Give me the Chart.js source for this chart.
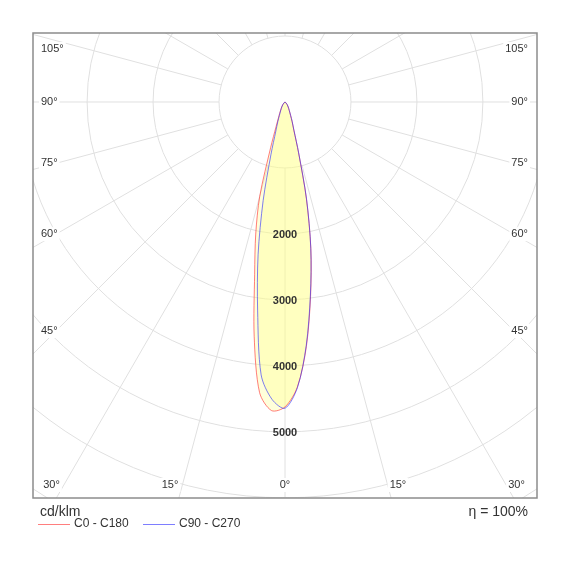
<!DOCTYPE html>
<html>
<head>
<meta charset="utf-8">
<script src="https://cdn.jsdelivr.net/npm/chart.js@4.4.0/dist/chart.umd.min.js"></script>
<style>
  html, body { margin: 0; padding: 0; background: #fff; }
  #wrap { width: 570px; height: 570px; }
</style>
</head>
<body>
<div id="wrap"><canvas id="chart" width="570" height="570"></canvas></div>
<script>
// gamma angles (deg from nadir) and luminous intensity in cd/klm per C-plane
const gammaAngles = [0, 2.5, 5, 7.5, 10, 12.5, 15, 17.5, 20, 22.5, 25, 30, 35, 40, 50, 60, 70, 80, 90];
const c0Values   = [4620, 4320, 3720, 2970, 2260, 1500, 795, 445, 315, 225, 170, 110, 75, 50, 15, 0, 0, 0, 0];
const c180Values = [4620, 4680, 4420, 3580, 2650, 2050, 1480, 720, 390, 260, 195, 120, 80, 50, 15, 0, 0, 0, 0];
const c90Values  = [4640, 4330, 3700, 2950, 2250, 1510, 800, 450, 320, 225, 170, 110, 75, 50, 15, 0, 0, 0, 0];
const c270Values = [4640, 4510, 4150, 3180, 2350, 1530, 820, 460, 320, 225, 170, 110, 75, 50, 15, 0, 0, 0, 0];

const ringValues = [1000, 2000, 3000, 4000, 5000, 6000, 7000, 8000];
const ringLabels = [2000, 3000, 4000, 5000];
const sideAngles = [45, 60, 75, 90, 105];
const bottomAngles = [0, 15, 30];
const seriesNames = ['C0 - C180', 'C90 - C270'];
const unitLabel = 'cd/klm';
const etaLabel = 'η = 100%';

const FONT = '"Liberation Sans", Arial, sans-serif';
const rad = d => d * Math.PI / 180;

// left half-plane goes from 90° down to nadir, right half-plane back up to 90°
function planePoints(leftVals, rightVals) {
  const pts = [];
  for (let i = gammaAngles.length - 1; i >= 0; i--) {
    const g = rad(gammaAngles[i]);
    pts.push({ x: -leftVals[i] * Math.sin(g), y: -leftVals[i] * Math.cos(g) });
  }
  for (let i = 1; i < gammaAngles.length; i++) {
    const g = rad(gammaAngles[i]);
    pts.push({ x: rightVals[i] * Math.sin(g), y: -rightVals[i] * Math.cos(g) });
  }
  return pts;
}

const polarGrid = {
  id: 'polarGrid',
  beforeDraw(chart) {
    const { ctx, chartArea: a, scales: { x, y } } = chart;
    const cx = x.getPixelForValue(0), cy = y.getPixelForValue(0);
    const px = v => x.getPixelForValue(v) - cx;
    ctx.save();
    ctx.beginPath();
    ctx.rect(a.left, a.top, a.width, a.height);
    ctx.clip();
    ctx.strokeStyle = '#e0e0e0';
    ctx.lineWidth = 1;
    ringValues.forEach(v => {
      ctx.beginPath();
      ctx.arc(cx, cy, px(v), 0, Math.PI * 2);
      ctx.stroke();
    });
    const r0 = px(ringValues[0]), r1 = px(ringValues[ringValues.length - 1]) * 1.5;
    for (let g = 0; g < 360; g += 15) {
      const t = rad(g);
      ctx.beginPath();
      ctx.moveTo(cx + r0 * Math.sin(t), cy + r0 * Math.cos(t));
      ctx.lineTo(cx + r1 * Math.sin(t), cy + r1 * Math.cos(t));
      ctx.stroke();
    }
    ctx.restore();
  },
  afterDatasetsDraw(chart) {
    const { ctx, scales: { x, y } } = chart;
    ctx.save();
    ctx.font = 'bold 11px ' + FONT;
    ctx.fillStyle = '#333';
    ctx.textAlign = 'center';
    ctx.textBaseline = 'middle';
    ringLabels.forEach(v => {
      ctx.fillText(String(v), x.getPixelForValue(0), y.getPixelForValue(-v) + 1);
    });
    ctx.restore();
  },
  afterDraw(chart) {
    const { ctx, chartArea: a, scales: { x, y } } = chart;
    const cx = x.getPixelForValue(0), cy = y.getPixelForValue(0);
    ctx.save();
    ctx.font = '11px ' + FONT;
    ctx.textBaseline = 'middle';

    const label = (txt, tx, ty, align) => {
      const w = ctx.measureText(txt).width;
      const lx = align === 'left' ? tx : align === 'right' ? tx - w : tx - w / 2;
      ctx.fillStyle = '#fff';
      ctx.fillRect(lx - 2, ty - 7, w + 4, 14);
      ctx.fillStyle = '#333';
      ctx.textAlign = align;
      ctx.fillText(txt, tx, ty);
    };

    // side labels
    const d = cx - (a.left + 23);
    sideAngles.forEach(g => {
      let ty = cy + d * Math.cos(rad(g)) / Math.sin(rad(g));
      ty = Math.max(ty, a.top + 16);
      label(g + '°', a.left + 8, ty, 'left');
      label(g + '°', a.right - 9, ty, 'right');
    });
    // bottom labels
    const by = a.bottom - 13;
    bottomAngles.forEach(g => {
      const off = (by - cy) * Math.tan(rad(g));
      if (g === 0) {
        label('0°', cx, by, 'center');
      } else {
        label(g + '°', Math.max(cx - off - 4, a.left + 24), by, 'right');
        label(g + '°', cx + off + 2, by, 'left');
      }
    });

    // frame
    ctx.strokeStyle = '#8c8c8c';
    ctx.lineWidth = 1.5;
    ctx.strokeRect(a.left, a.top, a.width, a.height);

    // unit and efficiency
    ctx.fillStyle = '#333';
    ctx.font = '14px ' + FONT;
    ctx.textAlign = 'left';
    ctx.fillText(unitLabel, a.left + 7, a.bottom + 14);
    ctx.textAlign = 'right';
    ctx.fillText(etaLabel, a.right - 9, a.bottom + 14);

    // legend
    ctx.font = '12px ' + FONT;
    ctx.textAlign = 'left';
    let lx = a.left + 5;
    const ly = a.bottom + 26;
    chart.data.datasets.forEach(ds => {
      ctx.strokeStyle = ds.borderColor;
      ctx.lineWidth = 1;
      ctx.beginPath();
      ctx.moveTo(lx, ly + 0.5);
      ctx.lineTo(lx + 32, ly + 0.5);
      ctx.stroke();
      ctx.fillStyle = '#333';
      ctx.fillText(ds.label, lx + 36, ly);
      lx += 105;
    });
    ctx.restore();
  }
};

new Chart(document.getElementById('chart'), {
  type: 'scatter',
  data: {
    datasets: [
      {
        label: seriesNames[0],
        data: planePoints(c180Values, c0Values),
        showLine: true,
        order: 2,
        borderColor: 'rgba(255, 40, 40, 0.6)',
        backgroundColor: 'rgba(255, 255, 131, 0.3)',
        borderWidth: 1,
        pointRadius: 0,
        tension: 0.3,
        fill: 'shape'
      },
      {
        label: seriesNames[1],
        data: planePoints(c270Values, c90Values),
        showLine: true,
        order: 1,
        borderColor: 'rgba(40, 40, 255, 0.6)',
        backgroundColor: 'rgba(255, 255, 131, 0.3)',
        borderWidth: 1,
        pointRadius: 0,
        tension: 0.3,
        fill: 'shape'
      }
    ]
  },
  options: {
    responsive: false,
    animation: false,
    layout: { padding: { left: 33, top: 33, right: 33, bottom: 72 } },
    scales: {
      x: { type: 'linear', min: -3820, max: 3820, display: false },
      y: { type: 'linear', min: -6000, max: 1045, display: false }
    },
    plugins: {
      legend: { display: false },
      tooltip: { enabled: false },
      filler: { drawTime: 'beforeDatasetsDraw' }
    }
  },
  plugins: [polarGrid]
});
</script>
</body>
</html>
